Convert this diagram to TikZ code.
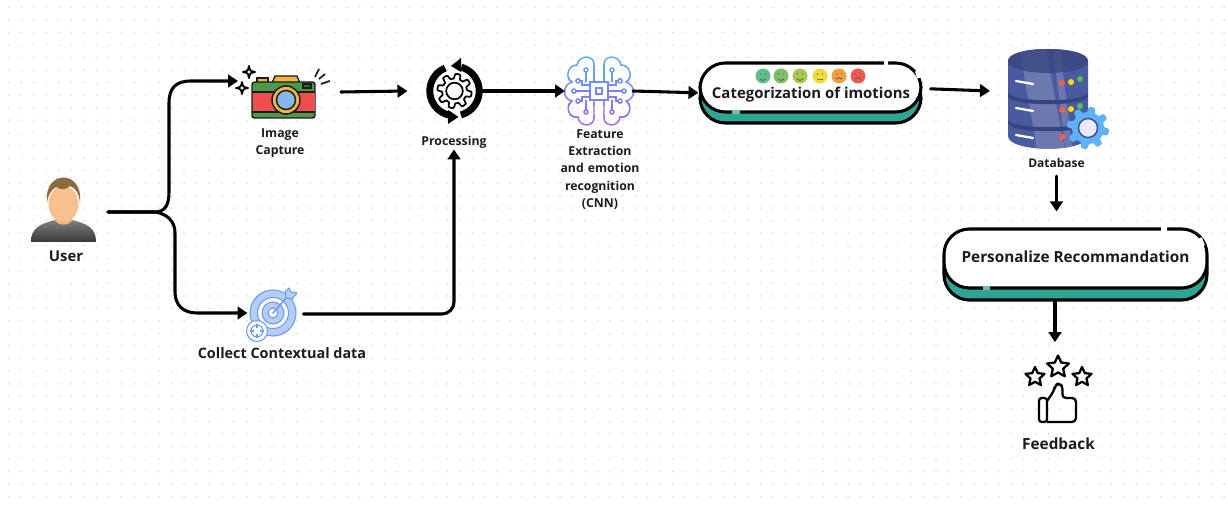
\documentclass[tikz,border=0pt]{standalone}
\usepackage{fontspec}
\setmainfont{Open Sans}
\usetikzlibrary{arrows.meta,shapes.geometric,calc}
\definecolor{teal1}{HTML}{2FA593}
\definecolor{ink}{HTML}{1C1C1C}
\definecolor{dotc}{HTML}{DEDEDE}
\definecolor{dbbody}{HTML}{4A5A9E}
\definecolor{dbdark}{HTML}{36447F}
\definecolor{dblight}{HTML}{6C78B0}
\definecolor{bluea}{HTML}{B4CCF7}
\definecolor{blueb}{HTML}{6E9BEF}
\definecolor{skin}{HTML}{F8C08E}
\definecolor{hair}{HTML}{8C6A3C}
\definecolor{camred}{HTML}{EE4E4E}
\definecolor{camgreen}{HTML}{4C9A48}
\definecolor{camyel}{HTML}{F2B544}
\definecolor{camblue}{HTML}{86B6EE}
\definecolor{gearblue}{HTML}{5FB2F5}
\tikzset{
  conn/.style={line width=2.3pt,black,line cap=round,-{Triangle[length=7.5pt,width=9.5pt]}},
  flow/.style={line width=2.3pt,black,line cap=round},
  box/.style={inner sep=0pt,outer sep=0pt,minimum width=#1*0.75pt},
  lab/.style={inner sep=0pt,outer sep=0pt,text=ink,font=\bfseries\fontsize{#1}{12.9pt}\selectfont,align=center},
  pillw/.style={draw=black,line width=2.3pt,fill=white,rounded corners=19pt,inner sep=0pt},
  pillt/.style={draw=black,line width=2.3pt,fill=teal1,rounded corners=19pt,inner sep=0pt},
  stardeco/.style={star,star points=5,star point ratio=2.1,draw=black,line width=1.7pt,fill=white,inner sep=0pt,line join=round},
}
\newcommand{\gearloop}[6]{% cx cy rmid amp teeth phase
  plot[domain=0:360,samples=145,variable=\t]
  ({#1+(#3+#4*max(-1,min(1,2.2*sin(#5*\t+#6))))*cos(\t)},
   {#2+(#3+#4*max(-1,min(1,2.2*sin(#5*\t+#6))))*sin(\t)}) -- cycle}
\newcommand{\sparkle}[3]{%
  \draw[line width=1.4pt,black,fill=white,line join=round]
    (#1,#2-#3) .. controls (#1+1,#2-1) .. (#1+#3,#2) .. controls (#1+1,#2+1) .. (#1,#2+#3)
    .. controls (#1-1,#2+1) .. (#1-#3,#2) .. controls (#1-1,#2-1) .. (#1,#2-#3) -- cycle;}
\newcommand{\brainhalf}{%
  \draw (5,-26) .. controls (4,-36) and (20,-37) .. (22,-26)
        .. controls (32,-26) and (34,-12) .. (27,-9)
        .. controls (37,-6) and (37,8) .. (27,10)
        .. controls (34,14) and (31,28) .. (21,26)
        .. controls (20,37) and (4,36) .. (5,26) -- (5,9);
  \draw (5,-26) -- (5,-9);
  \draw (13,-21) -- (13,-9);
  \draw (21,-10) -- (17,-10) -- (17,-6) -- (9,-6);
  \draw (9,0) -- (25,0);
  \draw (21,10) -- (17,10) -- (17,6) -- (9,6);
  \draw (13,21) -- (13,9);
  \foreach \q/\r in {13/-21,21/-10,25/0,21/10,13/21}{\draw[fill=white] (\q,\r) circle (2);}
}
\newcommand{\brainall}{%
  \brainhalf
  \begin{scope}[xscale=-1]\brainhalf\end{scope}
  \draw[line width=1.3pt] (-9,-9) rectangle (9,9);
  \draw[line width=1.3pt] (-3,-3) rectangle (3,3);
}
\begin{document}
\begin{tikzpicture}[x=0.75pt,y=-0.75pt]
\useasboundingbox (0,0) rectangle (1228,505);
\fill[white] (0,0) rectangle (1228,505);
% dotted background
\foreach \i in {0,...,97}{
  \foreach \j in {0,...,39}{
    \fill[dotc] ({8.7+\i*12.53},{7.3+\j*12.55}) circle (1);
  }
}
% placeholders for icons
\node[box=90,minimum height=54pt] (user) at (63,212) {};
\node[box=103,minimum height=40pt] (cam) at (289.5,92) {};
\node[box=58,minimum height=58*0.75pt] (proc) at (454.5,91) {};
\node[box=68,minimum height=50pt] (brain) at (599,91) {};
\node[box=60,minimum height=30pt] (tgt) at (273.5,314) {};
% user
\shade[top color=black!50,bottom color=black!78] (31,242) .. controls (31,228) and (40,224) .. (55,220) -- (72,220) .. controls (88,224) and (96,228) .. (96,242) -- cycle;
\fill[skin!85!brown] (55,212) -- (72,212) -- (72,221) .. controls (68,226) and (59,226) .. (55,221) -- cycle;
\fill[skin] (63.5,204) ellipse (15 and 18);
\fill[hair] (47,203) .. controls (43,169) and (84,169) .. (80,203) .. controls (79,192) and (75,188) .. (70,186) .. controls (67,190) and (60,190) .. (56,187) .. controls (51,190) and (48,195) .. (47,203) -- cycle;
% camera
\draw[line width=1pt,ink,fill=camyel] (257,83) -- (257,78) -- (268,78) -- (268,83);
\draw[line width=1pt,ink,fill=camyel] (272,83) -- (275,76) -- (297,76) -- (300,83);
\draw[line width=1.1pt,ink,fill=camgreen,rounded corners=2pt] (252,82) rectangle (315,118);
\fill[camred] (252.5,92) rectangle (314.5,112);
\draw[line width=.8pt,ink] (252,92) -- (315,92) (252,112) -- (315,112);
\draw[line width=.8pt,ink,fill=camgreen!70!black] (303,84) rectangle (311,88);
\draw[line width=1.1pt,ink,fill=camyel] (286,100) circle (14);
\draw[line width=1.1pt,ink,fill=camblue] (286,100) circle (9.5);
\sparkle{249}{72}{6}
\sparkle{242}{88}{6}
\draw[line width=1.3pt,ink] (315,77) -- (319,69) (319,79) -- (325,74) (321,84) -- (330,81);
% processing
\draw[line width=5.2pt,black] plot[domain=112:262,samples=40,variable=\t] ({454.5+24.7*cos(\t)},{91-24.7*sin(\t)});
\draw[line width=5.2pt,black] plot[domain=-75:74,samples=40,variable=\t] ({454.5+24.7*cos(\t)},{91-24.7*sin(\t)});
\fill[black] (458.5,117) -- (448,110) -- (448,124) -- cycle;
\fill[black] (451,66) -- (461,58) -- (461,72) -- cycle;
\draw[line width=1.3pt,black,fill=white,line join=round] \gearloop{454.5}{91}{14.8}{2.4}{8}{0};
\draw[line width=1.3pt,black,fill=white] (454.5,91) circle (8.3);
% brain
\begin{scope}[shift={(599,91)},line width=1.1pt]
  \foreach \b/\c in {-40/5FA9F0,-25/66A0F0,-12/7092EE,0/8080EC,12/9072EA,25/A468E8}{
    \begin{scope}
      \clip (-45,\b) rectangle (45,\b+15);
      \definecolor{bc}{HTML}{\c}
      \begin{scope}[draw=bc,color=bc]\brainall\end{scope}
    \end{scope}
  }
\end{scope}
% target
\draw[line width=.8pt,blueb,fill=bluea] (273,313) circle (23);
\draw[line width=.8pt,blueb,fill=white] (273,313) circle (15.5);
\draw[line width=.8pt,blueb,fill=bluea] (273,313) circle (11);
\draw[line width=.8pt,blueb,fill=white] (273,313) circle (5);
\draw[line width=1.2pt,blueb,line cap=round] (273,313) -- (287,297);
\draw[line width=.8pt,blueb,fill=bluea,line join=round] (285,292) -- (289,288) -- (291,292) -- (297,293) -- (292,299) -- (286,298) -- cycle;
\draw[line width=.8pt,blueb,fill=white] (257,331) circle (10.5);
\draw[line width=.8pt,blueb,fill=white] (257,331) circle (6);
\draw[line width=1.2pt,blueb] (257,324) -- (257,328) (257,334) -- (257,338) (250,331) -- (254,331) (260,331) -- (264,331);
% pills
\node[pillt,minimum width=221*0.75pt,minimum height=49*0.75pt] (p1shadow) at (810.5,98.5) {};
\node[pillw,minimum width=221*0.75pt,minimum height=49*0.75pt] (p1) at (810.5,87.5) {};
\draw[line width=3pt,white] (884,63) -- (888,63) (917,71) -- (919,78);
\draw[line width=3.2pt,teal1!70!white] (732,112) -- (740,112);
\foreach \x/\c/\m in {763/5FBF8A/2,781/7FBF6A/2,800/A5C850/2,820/F2D93C/0,839/F0A03C/-2,858/EE5A50/-2}{
  \definecolor{fc}{HTML}{\c}
  \fill[fc] (\x,76) circle (7.5);
  \fill[black!65] (\x-2.7,74) circle (.7) (\x+2.7,74) circle (.7);
  \draw[black!65,line width=.6pt] (\x-3,79) .. controls (\x-1,79+\m) and (\x+1,79+\m) .. (\x+3,79);
}
\node[pillt,minimum width=263*0.75pt,minimum height=59*0.75pt] (p2shadow) at (1075.5,270.5) {};
\node[pillw,minimum width=263*0.75pt,minimum height=59*0.75pt] (p2) at (1075.5,258.5) {};
\draw[line width=3pt,white] (1161,229) -- (1167,229) (1200,238) -- (1203,246);
\draw[line width=3.2pt,teal1!70!white] (983,288) -- (990,288);
% database
\node[box=80,minimum height=75pt] (db) at (1048,99) {};
\begin{scope}
  \newcommand{\dbshape}{(1008,61) .. controls (1008,45) and (1088,45) .. (1088,61) -- (1088,136) .. controls (1088,153) and (1008,153) .. (1008,136) -- cycle}
  \fill[dbbody] \dbshape;
  \begin{scope}
    \clip \dbshape;
    \fill[dblight] (1018,40) -- (1044,40) -- (1066,155) -- (1038,155) -- cycle;
    \fill[dblight] (1052,40) -- (1059,40) -- (1073,155) -- (1066,155) -- cycle;
    \fill[dbdark,opacity=.75] (1008,61) .. controls (1008,45) and (1088,45) .. (1088,61) .. controls (1088,77) and (1008,77) .. (1008,61) -- cycle;
    \foreach \y in {92,119}{
      \fill[dbdark] (1008,\y) .. controls (1008,\y+11) and (1088,\y+11) .. (1088,\y) -- (1088,\y+4) .. controls (1088,\y+15) and (1008,\y+15) .. (1008,\y+4) -- cycle;
    }
  \end{scope}
\end{scope}
\foreach \y in {0,27,54}{
  \draw[white,line width=1.7pt,line cap=round] (1016,81+\y) -- (1033,84+\y);
}
\fill[red!70!orange!75!white] (1062,83) circle (3) (1062,110) circle (3) (1062,137) circle (3);
\fill[yellow!80!orange] (1071,82) circle (3) (1071,109) circle (3);
\fill[green!60!black!65!white] (1080,79) circle (3) (1080,106) circle (3);
\fill[gearblue] \gearloop{1088}{128}{18.5}{2.6}{8}{0};
\draw[line width=1pt,dbdark,fill=blue!8!white] (1088,128) circle (9.5);
% feedback icon
\node[stardeco,minimum size=23*0.75pt] (star1) at (1058,367) {};
\node[stardeco,minimum size=20*0.75pt] (star2) at (1035,377) {};
\node[stardeco,minimum size=20*0.75pt] (star3) at (1082,377) {};
\draw[line width=1.7pt,black,line join=round,rounded corners=2pt] (1047,398) -- (1039,398) -- (1039,422) -- (1047,422) -- cycle;
\draw[line width=1.7pt,black,line join=round,rounded corners=3pt] (1047,401) -- (1054,391) -- (1055,385) -- (1060,383) -- (1063,388) -- (1062,398) -- (1076,398) -- (1076,422) -- (1047,422);
% labels
\node[lab=11.2pt] (userl) at (66,256) {User};
\node[lab=9.2pt,text width=60pt] (caml) at (280,143) {Image\\Capture};
\node[lab=9.2pt] (procl) at (454,142) {Processing};
\node[lab=9.2pt,text width=80pt] (brainl) at (600,169.5) {Feature\\Extraction\\and emotion\\recognition\\(CNN)};
\node[lab=10.8pt] (tgtl) at (282,353) {Collect Contextual data};
\node[lab=11.2pt] (p1l) at (811,95) {Categorization of imotions};
\node[lab=11.5pt] (p2l) at (1075.5,257) {Personalize Recommandation};
\node[lab=9pt] (dbl) at (1056.5,163.5) {Database};
\node[lab=11.5pt] (fbl) at (1058.5,444) {Feedback};
% connectors
\draw[flow,-{Triangle[length=7.5pt,width=9.5pt]}] (user.east) -- (155,212) .. controls (165,212) and (169,205) .. (169,192) -- (169,103) .. controls (169,88) and (176,81) .. (191,81) -- ([yshift=8.25pt]cam.west);
\draw[flow,-{Triangle[length=7.5pt,width=9.5pt]}] (user.east) -- (155,212) .. controls (168,214) and (175,222) .. (175,233) -- (175,292) .. controls (175,305) and (183,313) .. (197,313) -- ([xshift=3pt,yshift=.75pt]tgt.west);
\draw[conn] (cam.east) -- ([xshift=-13.5pt]proc.west);
\draw[conn] (proc.east) -- (brain.west);
\draw[conn,rounded corners=9pt] (tgt.east) -| ([yshift=-1pt]procl.south);
\draw[conn] (brain.east) -- ([yshift=-4pt]p1.west);
\draw[conn] ([xshift=6pt,yshift=-1pt]p1.east) -- ([yshift=6pt]db.west-|990,0);
\draw[conn] ([yshift=-6pt]dbl.south) -- ([yshift=12pt]p2.north-|dbl.south);
\draw[conn] (p2shadow.south-|1055,0) -- ([yshift=8pt]star1.north-|1055,0);
\end{tikzpicture}
\end{document}
